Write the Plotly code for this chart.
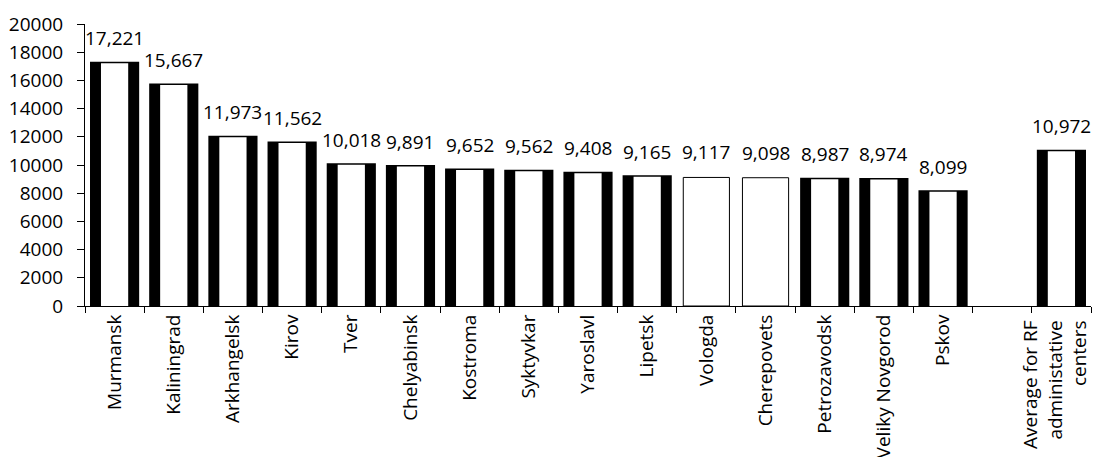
import plotly.graph_objects as go

# Cities, with one empty slot before the national average
cities = ["Murmansk", "Kaliningrad", "Arkhangelsk", "Kirov", "Tver", "Chelyabinsk",
          "Kostroma", "Syktyvkar", "Yaroslavl", "Lipetsk", "Vologda", "Cherepovets",
          "Petrozavodsk", "Veliky Novgorod", "Pskov", " ",
          "Average for RF<br>administative<br>centers"]
values = [17221, 15667, 11973, 11562, 10018, 9891, 9652, 9562, 9408, 9165,
          9117, 9098, 8987, 8974, 8099, None, 10972]
# Vologda and Cherepovets are drawn as plain outlined bars
plain = {"Vologda", "Cherepovets"}
average_label = cities[-1]

y_ticks = list(range(0, 20001, 2000))
y_tick_text = [str(t) for t in y_ticks]

FONT = "Open Sans"
FS = 19

outer_colors = ["white" if c in plain else "black" for c in cities]
outer_line_w = [1 if c in plain else 3 for c in cities]
inner_values = [None if c in plain else v for c, v in zip(cities, values)]
# the three-line average label is set separately so its lines align at the axis
x_tick_text = ["" if c == average_label else c for c in cities]

fig = go.Figure()
# thick black frame of each bar
fig.add_trace(go.Bar(
    x=cities, y=values, width=0.78,
    marker=dict(color=outer_colors, line=dict(color="black", width=outer_line_w)),
    hoverinfo="skip", showlegend=False,
))
# white core of each framed bar
fig.add_trace(go.Bar(
    x=cities, y=inner_values, width=0.46,
    marker=dict(color="white", line=dict(width=0)),
    hoverinfo="skip", showlegend=False,
))

for c, v in zip(cities, values):
    if v is None:
        continue
    fig.add_annotation(
        x=c, y=v, text=f"{v:,}", showarrow=False,
        yanchor="bottom", yshift=10,
        font=dict(family=FONT, size=FS, color="black"),
    )

fig.add_annotation(
    x=average_label, xref="x", y=0, yref="paper", text=average_label,
    showarrow=False, textangle=-90, align="right",
    xanchor="center", yanchor="top", yshift=-12, xshift=-7,
    font=dict(family=FONT, size=FS, color="black"),
)

fig.update_layout(
    width=1095, height=457,
    margin=dict(l=85, r=4, t=24, b=151),
    barmode="overlay",
    plot_bgcolor="white", paper_bgcolor="white",
    font=dict(family=FONT, size=FS, color="black"),
)
fig.update_xaxes(
    type="category", categoryorder="array", categoryarray=cities,
    tickmode="array", tickvals=cities, ticktext=x_tick_text,
    range=[-0.5, len(cities) - 0.5],
    tickson="boundaries", ticks="outside", ticklen=6, tickcolor="black",
    tickangle=-90, showline=True, linecolor="black", linewidth=1,
    showgrid=False, zeroline=False, automargin=False,
    tickfont=dict(family=FONT, size=FS, color="black"),
)
fig.update_yaxes(
    range=[0, 20000], tickmode="array", tickvals=y_ticks, ticktext=y_tick_text,
    ticks="outside", ticklen=7, ticklabelstandoff=10,
    tickcolor="black", showline=True, linecolor="black", linewidth=1,
    showgrid=False, zeroline=False, automargin=False,
    tickfont=dict(family=FONT, size=FS, color="black"),
)

fig.write_html("out.html")
